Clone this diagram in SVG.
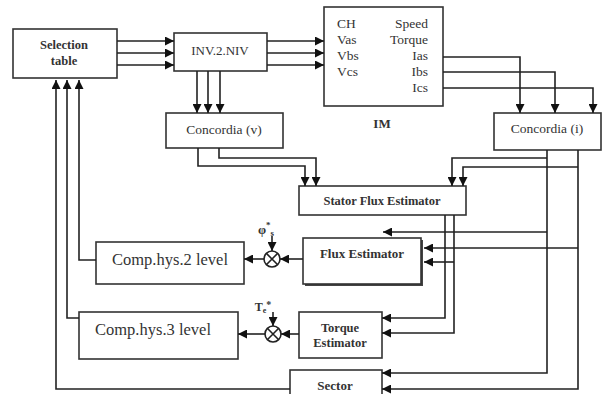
<svg xmlns="http://www.w3.org/2000/svg" width="603" height="394" viewBox="0 0 603 394">
<defs>
<marker id="ah" markerWidth="9" markerHeight="9" refX="9" refY="4.5" orient="auto" markerUnits="userSpaceOnUse">
<path d="M0,0 L9,4.5 L0,9 z" fill="#111"/>
</marker>
<style>
.box{fill:#fff;stroke:#333;stroke-width:1.6}
.ln{fill:none;stroke:#222;stroke-width:1.6}
.ar{fill:none;stroke:#222;stroke-width:1.6;marker-end:url(#ah)}
.t{font-family:"Liberation Serif","Times New Roman",serif;fill:#333;text-anchor:middle}
.s{text-anchor:start}
.e{text-anchor:end}
.b{font-weight:bold}
</style>
</defs>
<rect width="603" height="394" fill="#fff"/>

<g id="selection-table">
<rect class="box" x="13" y="29" width="104" height="49"/>
<text class="t b" x="64" y="49" font-size="12.5">Selection</text>
<text class="t b" x="64" y="65" font-size="12.5">table</text>
</g>

<g id="inv">
<rect class="box" x="174" y="33" width="93" height="38"/>
<text class="t" x="220" y="55" font-size="13">INV.2.NIV</text>
</g>

<g id="im">
<rect class="box" x="324" y="7" width="119" height="99"/>
<text class="t s" x="337" y="28" font-size="13.5">CH</text>
<text class="t s" x="337" y="44" font-size="13.5">Vas</text>
<text class="t s" x="337" y="60" font-size="13.5">Vbs</text>
<text class="t s" x="337" y="76" font-size="13.5">Vcs</text>
<text class="t e" x="428" y="28" font-size="13.5">Speed</text>
<text class="t e" x="428" y="44" font-size="13.5">Torque</text>
<text class="t e" x="428" y="60" font-size="13.5">Ias</text>
<text class="t e" x="428" y="76" font-size="13.5">Ibs</text>
<text class="t e" x="428" y="92" font-size="13.5">Ics</text>
<text class="t b" x="382" y="128" font-size="13">IM</text>
</g>

<g id="concordia-v">
<rect class="box" x="166" y="113" width="117" height="35"/>
<text class="t" x="224" y="134" font-size="13.5">Concordia (v)</text>
</g>

<g id="concordia-i">
<rect class="box" x="494" y="113" width="107" height="37"/>
<text class="t" x="547" y="133" font-size="13.5">Concordia (i)</text>
</g>

<g id="stator-flux-estimator">
<rect class="box" x="299" y="186" width="167" height="29"/>
<text class="t b" x="382" y="205" font-size="12.5">Stator Flux Estimator</text>
</g>

<g id="flux-estimator">
<rect x="305" y="240" width="118" height="46" fill="#444"/>
<rect class="box" x="303" y="238" width="118" height="46"/>
<text class="t b" x="362" y="258" font-size="13">Flux Estimator</text>
</g>

<g id="torque-estimator">
<rect class="box" x="299" y="312" width="83" height="46"/>
<text class="t b" x="340" y="332" font-size="12.5">Torque</text>
<text class="t b" x="340" y="347" font-size="12.5">Estimator</text>
</g>

<g id="sector">
<rect class="box" x="290" y="370" width="92" height="30"/>
<text class="t b" x="335" y="390" font-size="13">Sector</text>
</g>

<g id="comp-hys-2">
<rect class="box" x="96" y="242" width="148" height="42"/>
<text class="t" x="170" y="265" font-size="16.5">Comp.hys.2 level</text>
</g>

<g id="comp-hys-3">
<rect class="box" x="79" y="312" width="159" height="47"/>
<text class="t" x="153" y="335" font-size="16.5">Comp.hys.3 level</text>
</g>

<g id="sum-flux">
<circle cx="272" cy="259" r="8" fill="#fff" stroke="#222" stroke-width="1.6"/>
<path class="ln" d="M266.3,253.3 L277.7,264.7 M277.7,253.3 L266.3,264.7"/>
<text class="t b" x="266" y="234" font-size="13">φ<tspan font-size="9" dy="-6">*</tspan><tspan font-size="9" dy="8">s</tspan></text>
</g>

<g id="sum-torque">
<circle cx="273" cy="334" r="8" fill="#fff" stroke="#222" stroke-width="1.6"/>
<path class="ln" d="M267.3,328.3 L278.7,339.7 M278.7,328.3 L267.3,339.7"/>
<text class="t b" x="263" y="311" font-size="12">T<tspan font-size="8" dy="2">e</tspan><tspan font-size="10" dy="-5">*</tspan></text>
</g>

<g id="connectors">
<path class="ar" d="M117,41 H174"/>
<path class="ar" d="M117,53 H174"/>
<path class="ar" d="M117,65 H174"/>
<path class="ar" d="M267,41 H324"/>
<path class="ar" d="M267,53 H324"/>
<path class="ar" d="M267,65 H324"/>
<path class="ar" d="M197,71 V113"/>
<path class="ar" d="M208,71 V113"/>
<path class="ar" d="M220,71 V113"/>
<path class="ar" d="M443,57 H520 V113"/>
<path class="ar" d="M443,72 H555 V113"/>
<path class="ar" d="M443,88 H593 V113"/>
<path class="ar" d="M198,148 V166 H305 V186"/>
<path class="ar" d="M219,148 V158 H316 V186"/>
<path class="ar" d="M547,158 H452 V186"/>
<path class="ar" d="M578,167 H463 V186"/>
<path class="ar" d="M547,150 V373 H382"/>
<path class="ar" d="M578,150 V389 H382"/>
<path class="ar" d="M547,232 H383"/>
<path class="ar" d="M578,248 H424"/>
<path class="ar" d="M454,262 H424"/>
<path class="ar" d="M445,215 V318 H382"/>
<path class="ar" d="M454,215 V333 H382"/>
<path class="ar" d="M303,259 H280"/>
<path class="ar" d="M264,259 H244"/>
<path class="ar" d="M272,236 V251"/>
<path class="ar" d="M299,334 H281"/>
<path class="ar" d="M265,334 H238"/>
<path class="ar" d="M273,312 V326"/>
<path class="ar" d="M96,260 H79 V80"/>
<path class="ar" d="M79,318 H67 V80"/>
<path class="ar" d="M290,389 H56 V80"/>
</g>
</svg>
